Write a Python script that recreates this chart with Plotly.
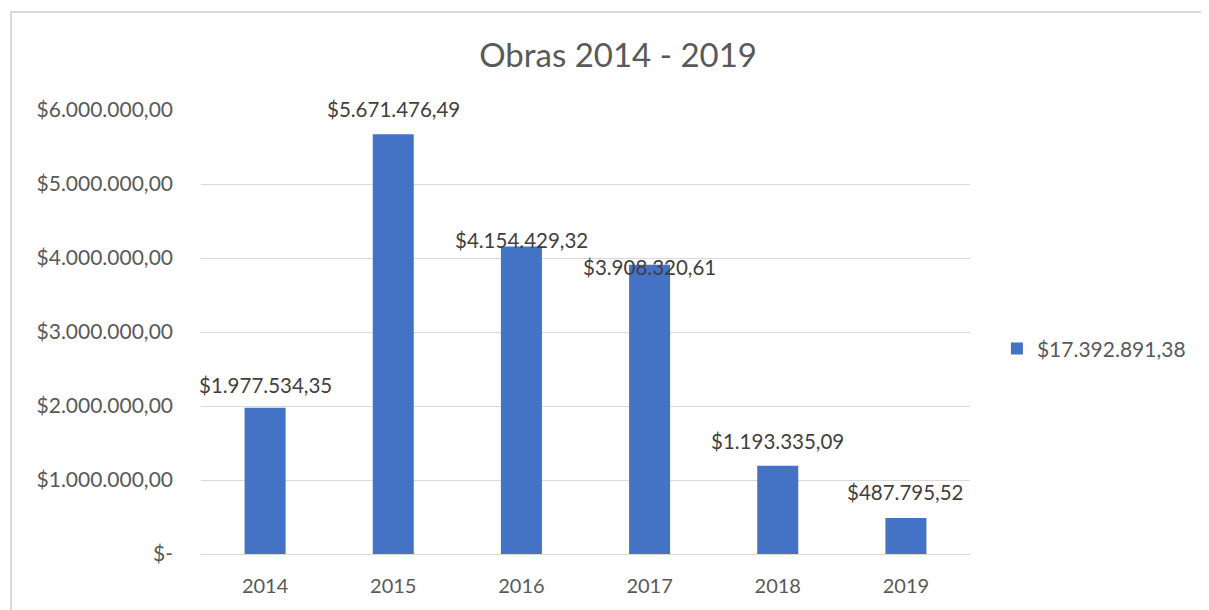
import plotly.graph_objects as go

years = ["2014", "2015", "2016", "2017", "2018", "2019"]
values = [1977534.35, 5671476.49, 4154429.32, 3908320.61, 1193335.09, 487795.52]
bar_labels = ["$1.977.534,35", "$5.671.476,49", "$4.154.429,32",
              "$3.908.320,61", "$1.193.335,09", "$487.795,52"]
series_name = "$17.392.891,38"
y_ticks = [0, 1000000, 2000000, 3000000, 4000000, 5000000, 6000000]
y_ticktext = ["$-", "$1.000.000,00", "$2.000.000,00", "$3.000.000,00",
              "$4.000.000,00", "$5.000.000,00", "$6.000.000,00"]

# how far above the bar top each label sits (Excel moved 2016/2017 by hand)
label_shift = [23, 25, 7, -2, 25, 26]

FONT = "Lato"
GREY = "#595959"

fig = go.Figure()
fig.add_trace(go.Bar(
    x=years, y=values, name=series_name,
    marker=dict(color="#4472C4", line=dict(width=0)),
    width=0.32,
    showlegend=True,
))

# on a category axis a numeric-looking string is read as an index, so use the index
annotations = [
    dict(x=i, y=v, xref="x", yref="y", text=t, showarrow=False,
         yanchor="middle", yshift=s,
         font=dict(family=FONT, size=20.5, color="#404040"))
    for i, (v, t, s) in enumerate(zip(values, bar_labels, label_shift))
]

# page body has an 8px margin, so the figure is drawn 8px smaller
fig.update_layout(
    width=1201, height=602,
    margin=dict(l=193, r=239, t=102, b=56),
    paper_bgcolor="white", plot_bgcolor="white",
    font=dict(family=FONT, size=20, color=GREY),
    title=dict(text="Obras 2014 - 2019", x=0.508, xanchor="center",
               y=0.922, yanchor="middle",
               font=dict(family=FONT, size=33, color=GREY)),
    showlegend=True,
    legend=dict(x=1.035, xanchor="left", y=0.462, yanchor="middle",
                font=dict(family=FONT, size=21, color=GREY)),
    annotations=annotations,
    shapes=[dict(type="rect", xref="paper", yref="paper",
                 x0=-0.247, x1=2, y0=-1, y1=1.2207,
                 line=dict(color="#d9d9d9", width=2), layer="below")],
)
fig.update_xaxes(type="category", range=[-0.5, len(years) - 0.5],
                 showgrid=False, showline=False, ticks="",
                 ticklabelstandoff=18,
                 tickfont=dict(family=FONT, size=20, color=GREY))
fig.update_yaxes(range=[0, 6000000], tickvals=y_ticks, ticktext=y_ticktext,
                 showgrid=True, gridcolor="#d9d9d9", gridwidth=1,
                 zeroline=True, zerolinecolor="#d9d9d9", zerolinewidth=1,
                 ticks="", ticklabelstandoff=27,
                 tickfont=dict(family=FONT, size=21, color=GREY))

fig.write_html("out.html")
